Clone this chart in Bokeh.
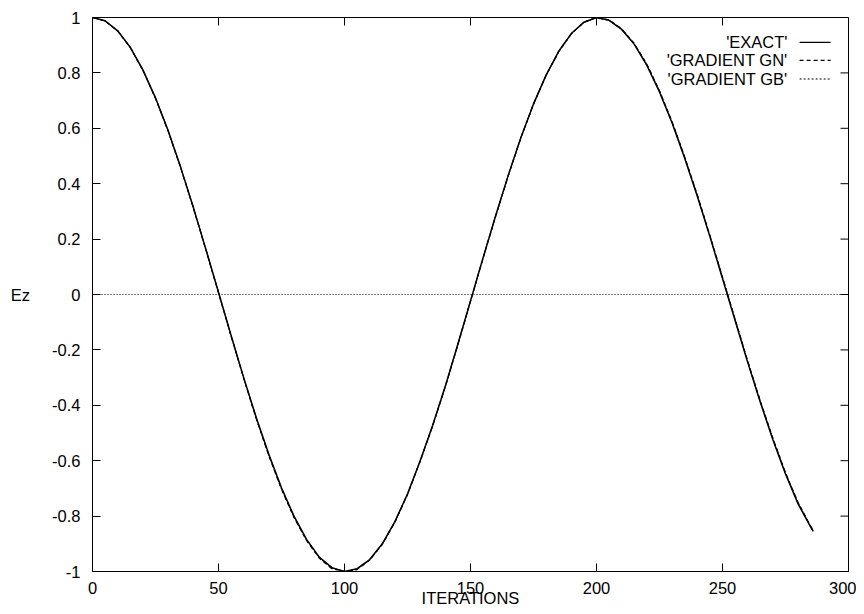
from bokeh.plotting import figure
from bokeh.models import Range1d, FixedTicker, CustomJSTickFormatter, Span
from bokeh.embed import file_html
from bokeh.resources import INLINE
from bokeh.core.properties import value

FONT = "Liberation Sans"
FS = "16.5px"

iterations = list(range(0, 290, 5)) + [286]

exact = [1.000, 0.988, 0.952, 0.892, 0.811, 0.710, 0.592, 0.459, 0.315, 0.163,
         0.008, -0.148, -0.300, -0.445, -0.578, -0.698, -0.801, -0.885, -0.948, -0.986,
         -1.000, -0.990, -0.957, -0.900, -0.820, -0.720, -0.601, -0.472, -0.331, -0.179,
         -0.023, 0.133, 0.285, 0.431, 0.567, 0.688, 0.792, 0.878, 0.942, 0.983,
         1.000, 0.990, 0.957, 0.903, 0.827, 0.731, 0.619, 0.492, 0.355, 0.209,
         0.058, -0.094, -0.245, -0.389, -0.524, -0.648, -0.756, -0.840, -0.855]

gradient_gn = [1.000, 0.988, 0.951, 0.891, 0.809, 0.708, 0.590, 0.457, 0.313, 0.161,
               0.006, -0.150, -0.303, -0.449, -0.583, -0.703, -0.806, -0.889, -0.952, -0.990,
               -1.000, -0.993, -0.959, -0.902, -0.822, -0.722, -0.603, -0.474, -0.333, -0.181,
               -0.025, 0.131, 0.283, 0.429, 0.566, 0.687, 0.791, 0.877, 0.941, 0.983,
               1.000, 0.991, 0.959, 0.906, 0.831, 0.736, 0.624, 0.497, 0.360, 0.214,
               0.063, -0.089, -0.240, -0.384, -0.519, -0.643, -0.751, -0.836, -0.851]

gradient_gb = [1.000, 0.988, 0.952, 0.892, 0.810, 0.709, 0.591, 0.458, 0.314, 0.162,
               0.007, -0.149, -0.302, -0.447, -0.581, -0.701, -0.804, -0.887, -0.950, -0.988,
               -1.000, -0.992, -0.958, -0.901, -0.821, -0.721, -0.602, -0.473, -0.332, -0.180,
               -0.024, 0.132, 0.284, 0.430, 0.566, 0.687, 0.791, 0.877, 0.941, 0.983,
               1.000, 0.990, 0.958, 0.905, 0.829, 0.734, 0.622, 0.495, 0.358, 0.212,
               0.061, -0.091, -0.242, -0.386, -0.521, -0.645, -0.753, -0.838, -0.853]

x_ticks = [0, 50, 100, 150, 200, 250, 300]
y_ticks = [-1, -0.8, -0.6, -0.4, -0.2, 0, 0.2, 0.4, 0.6, 0.8, 1]
legend_labels = ["'EXACT'", "'GRADIENT GN'", "'GRADIENT GB'"]
legend_dashes = ["solid", "4 3", "2 2"]

X0, X1, Y0, Y1 = 0, 300, -1, 1
p = figure(width=856, height=612, output_backend="svg", toolbar_location=None,
           x_range=Range1d(X0, X1), y_range=Range1d(Y0, Y1),
           min_border_left=92, min_border_right=8, min_border_top=17, min_border_bottom=41)
p.background_fill_color = "white"
p.border_fill_color = "white"
p.outline_line_color = "black"
p.outline_line_width = 1
p.xgrid.visible = False
p.ygrid.visible = False

fmt = CustomJSTickFormatter(code="return String(Math.round(tick*10)/10);")

for ax in (p.xaxis[0], p.yaxis[0]):
    ax.major_tick_in = 8
    ax.major_tick_out = 0
    ax.minor_tick_line_color = None
    ax.major_label_text_font = FONT
    ax.major_label_text_font_size = FS
    ax.major_label_text_color = "black"
    ax.axis_line_color = "black"
    ax.major_tick_line_color = "black"
    ax.axis_label_text_font = FONT
    ax.axis_label_text_font_size = FS
    ax.axis_label_text_font_style = "normal"
    ax.axis_label_text_color = "black"
    ax.formatter = fmt

p.xaxis[0].ticker = FixedTicker(ticks=x_ticks)
p.yaxis[0].ticker = FixedTicker(ticks=y_ticks)
p.xaxis[0].major_label_standoff = 10
p.xaxis[0].axis_label = "ITERATIONS"
p.xaxis[0].axis_label_standoff = -8
p.yaxis[0].major_label_standoff = 12
p.yaxis[0].axis_label = "Ez"
p.yaxis[0].axis_label_orientation = "horizontal"
p.yaxis[0].axis_label_standoff = 19

# mirrored inward ticks on top and right frame edges (8 px long)
tick_dx = 8 * (X1 - X0) / 756
tick_dy = 8 * (Y1 - Y0) / 554
p.segment(x0=x_ticks, y0=[Y1] * len(x_ticks), x1=x_ticks, y1=[Y1 - tick_dy] * len(x_ticks),
          line_color="black", line_width=1)
p.segment(x0=[X1] * len(y_ticks), y0=y_ticks, x1=[X1 - tick_dx] * len(y_ticks), y1=y_ticks,
          line_color="black", line_width=1)

p.add_layout(Span(location=0, dimension="width", line_color="black", line_width=1, line_dash="1 2"))

p.line(iterations, exact, line_color="black", line_width=1.5, line_join="round")
p.line(iterations, gradient_gn, line_color="black", line_width=1.2, line_dash="4 3")
p.line(iterations, gradient_gb, line_color="black", line_width=1.2, line_dash="2 2")

# legend (gnuplot style: text right aligned, sample on the right)
leg_y = [0.91, 0.845, 0.778]
p.text(x=[275.8] * 3, y=leg_y, text=legend_labels, text_align="right", text_baseline="middle",
       text_font=value(FONT), text_font_size=FS, text_color="black")
for yy, dash in zip(leg_y, legend_dashes):
    p.line([280.6, 292.9], [yy, yy], line_color="black", line_width=1.2, line_dash=dash)

open("out.html", "w").write(file_html(p, INLINE))
